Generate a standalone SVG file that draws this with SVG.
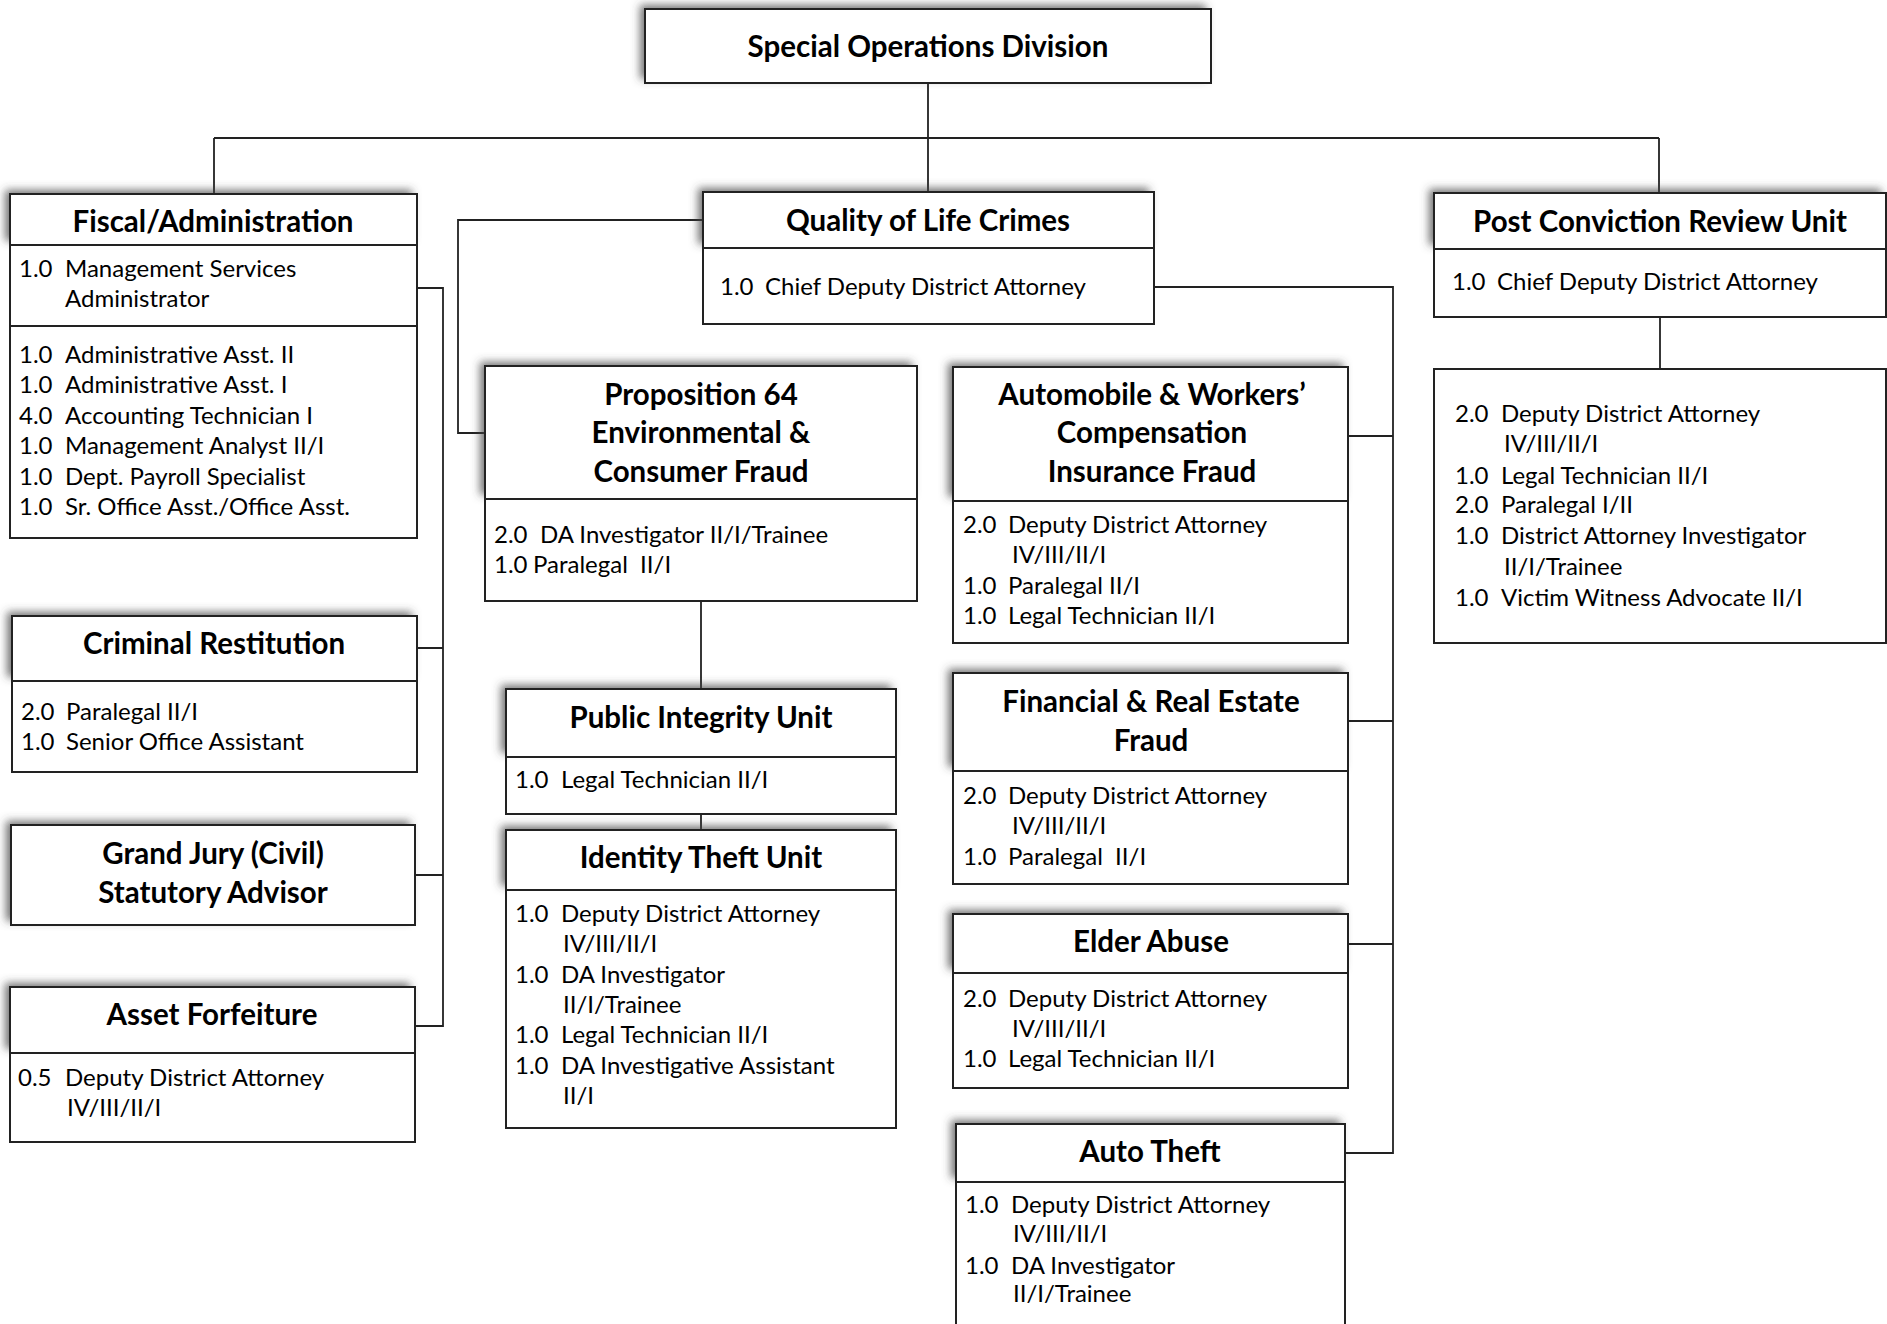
<svg xmlns="http://www.w3.org/2000/svg" width="1887" height="1324" viewBox="0 0 1887 1324">
<defs>
<filter id="sh" x="-10%" y="-30%" width="120%" height="160%">
<feGaussianBlur in="SourceAlpha" stdDeviation="4"/>
<feOffset dx="-5" dy="-4" result="b"/>
<feFlood flood-color="#444" flood-opacity="0.75"/>
<feComposite in2="b" operator="in"/>
<feMerge><feMergeNode/><feMergeNode in="SourceGraphic"/></feMerge>
</filter>
<style>
.bx{fill:#fff;stroke:#222;stroke-width:2}
.hd{fill:#fff;stroke:none;filter:url(#sh)}
.dv{stroke:#222;stroke-width:2}
.ln{fill:none;stroke:#222;stroke-width:1.8}
.t{font-family:Lato,"Liberation Sans",sans-serif;font-weight:bold;font-size:29.5px;text-anchor:middle;fill:#000}
.b{font-family:Lato,"Liberation Sans",sans-serif;font-size:24px;fill:#000}
</style>
</defs>
<rect width="1887" height="1324" fill="#fff"/>

<g id="connectors">
<path class="ln" d="M928 83V138M214 138H1659M214 138V194M928 138V192M1659 138V194"/>
<path class="ln" d="M417 288H443V1026H415M417 648H443M415 875H443"/>
<path class="ln" d="M703 220H458V433H485"/>
<path class="ln" d="M1154 287H1393V1153H1345M1348 436H1393M1348 721H1393M1348 944H1393"/>
<path class="ln" d="M701 601V689M701 814V830"/>
<path class="ln" d="M1660 317V369"/>
</g>

<g id="n-top">
<rect class="hd" x="645" y="9" width="566" height="74"/>
<rect class="bx" x="645" y="9" width="566" height="74"/>
<text class="t" x="928" y="57">Special Operations Division</text>
</g>

<g id="n-fiscal">
<rect class="hd" x="10" y="194" width="407" height="51"/>
<rect class="bx" x="10" y="194" width="407" height="344"/>
<line class="dv" x1="10" y1="245" x2="417" y2="245"/>
<line class="dv" x1="10" y1="326" x2="417" y2="326"/>
<text class="t" x="213" y="232">Fiscal/Administration</text>
<text class="b" x="19" y="277">1.0</text><text class="b" x="65" y="277">Management Services</text>
<text class="b" x="65" y="307">Administrator</text>
<text class="b" x="19" y="363">1.0</text><text class="b" x="65" y="363">Administrative Asst. II</text>
<text class="b" x="19" y="393">1.0</text><text class="b" x="65" y="393">Administrative Asst. I</text>
<text class="b" x="19" y="424">4.0</text><text class="b" x="65" y="424">Accounting Technician I</text>
<text class="b" x="19" y="454">1.0</text><text class="b" x="65" y="454">Management Analyst II/I</text>
<text class="b" x="19" y="485">1.0</text><text class="b" x="65" y="485">Dept. Payroll Specialist</text>
<text class="b" x="19" y="515">1.0</text><text class="b" x="65" y="515">Sr. Office Asst./Office Asst.</text>
</g>

<g id="n-restitution">
<rect class="hd" x="12" y="616" width="405" height="65"/>
<rect class="bx" x="12" y="616" width="405" height="156"/>
<line class="dv" x1="12" y1="681" x2="417" y2="681"/>
<text class="t" x="214" y="654">Criminal Restitution</text>
<text class="b" x="21" y="720">2.0</text><text class="b" x="66" y="720">Paralegal II/I</text>
<text class="b" x="21" y="750">1.0</text><text class="b" x="66" y="750">Senior Office Assistant</text>
</g>

<g id="n-grandjury">
<rect class="hd" x="11" y="825" width="404" height="100"/>
<rect class="bx" x="11" y="825" width="404" height="100"/>
<text class="t" x="213" y="864">Grand Jury (Civil)</text>
<text class="t" x="213" y="903">Statutory Advisor</text>
</g>

<g id="n-asset">
<rect class="hd" x="10" y="987" width="405" height="66"/>
<rect class="bx" x="10" y="987" width="405" height="155"/>
<line class="dv" x1="10" y1="1053" x2="415" y2="1053"/>
<text class="t" x="212" y="1025">Asset Forfeiture</text>
<text class="b" x="18" y="1086">0.5</text><text class="b" x="65" y="1086">Deputy District Attorney</text>
<text class="b" x="67" y="1116">IV/III/II/I</text>
</g>

<g id="n-qol">
<rect class="hd" x="703" y="192" width="451" height="56"/>
<rect class="bx" x="703" y="192" width="451" height="132"/>
<line class="dv" x1="703" y1="248" x2="1154" y2="248"/>
<text class="t" x="928" y="231">Quality of Life Crimes</text>
<text class="b" x="720" y="295">1.0</text><text class="b" x="765" y="295">Chief Deputy District Attorney</text>
</g>

<g id="n-prop64">
<rect class="hd" x="485" y="366" width="432" height="133"/>
<rect class="bx" x="485" y="366" width="432" height="235"/>
<line class="dv" x1="485" y1="499" x2="917" y2="499"/>
<text class="t" x="701" y="405">Proposition 64</text>
<text class="t" x="701" y="443">Environmental &amp;</text>
<text class="t" x="701" y="482">Consumer Fraud</text>
<text class="b" x="494" y="543">2.0</text><text class="b" x="540" y="543">DA Investigator II/I/Trainee</text>
<text class="b" x="494" y="573">1.0</text><text class="b" x="533" y="573" xml:space="preserve">Paralegal  II/I</text>
</g>

<g id="n-piu">
<rect class="hd" x="506" y="689" width="390" height="68"/>
<rect class="bx" x="506" y="689" width="390" height="125"/>
<line class="dv" x1="506" y1="757" x2="896" y2="757"/>
<text class="t" x="701" y="728">Public Integrity Unit</text>
<text class="b" x="515" y="788">1.0</text><text class="b" x="561" y="788">Legal Technician II/I</text>
</g>

<g id="n-itu">
<rect class="hd" x="506" y="830" width="390" height="60"/>
<rect class="bx" x="506" y="830" width="390" height="298"/>
<line class="dv" x1="506" y1="890" x2="896" y2="890"/>
<text class="t" x="701" y="868">Identity Theft Unit</text>
<text class="b" x="515" y="922">1.0</text><text class="b" x="561" y="922">Deputy District Attorney</text>
<text class="b" x="563" y="952">IV/III/II/I</text>
<text class="b" x="515" y="983">1.0</text><text class="b" x="561" y="983">DA Investigator</text>
<text class="b" x="563" y="1013">II/I/Trainee</text>
<text class="b" x="515" y="1043">1.0</text><text class="b" x="561" y="1043">Legal Technician II/I</text>
<text class="b" x="515" y="1074">1.0</text><text class="b" x="561" y="1074">DA Investigative Assistant</text>
<text class="b" x="563" y="1104">II/I</text>
</g>

<g id="n-autoworkers">
<rect class="hd" x="953" y="367" width="395" height="134"/>
<rect class="bx" x="953" y="367" width="395" height="276"/>
<line class="dv" x1="953" y1="501" x2="1348" y2="501"/>
<text class="t" x="1152" y="405">Automobile &amp; Workers’</text>
<text class="t" x="1152" y="443">Compensation</text>
<text class="t" x="1152" y="482">Insurance Fraud</text>
<text class="b" x="963" y="533">2.0</text><text class="b" x="1008" y="533">Deputy District Attorney</text>
<text class="b" x="1012" y="563">IV/III/II/I</text>
<text class="b" x="963" y="594">1.0</text><text class="b" x="1008" y="594">Paralegal II/I</text>
<text class="b" x="963" y="624">1.0</text><text class="b" x="1008" y="624">Legal Technician II/I</text>
</g>

<g id="n-financial">
<rect class="hd" x="953" y="673" width="395" height="98"/>
<rect class="bx" x="953" y="673" width="395" height="211"/>
<line class="dv" x1="953" y1="771" x2="1348" y2="771"/>
<text class="t" x="1151" y="712">Financial &amp; Real Estate</text>
<text class="t" x="1151" y="751">Fraud</text>
<text class="b" x="963" y="804">2.0</text><text class="b" x="1008" y="804">Deputy District Attorney</text>
<text class="b" x="1012" y="834">IV/III/II/I</text>
<text class="b" x="963" y="865">1.0</text><text class="b" x="1008" y="865" xml:space="preserve">Paralegal  II/I</text>
</g>

<g id="n-elder">
<rect class="hd" x="953" y="914" width="395" height="59"/>
<rect class="bx" x="953" y="914" width="395" height="174"/>
<line class="dv" x1="953" y1="973" x2="1348" y2="973"/>
<text class="t" x="1151" y="952">Elder Abuse</text>
<text class="b" x="963" y="1007">2.0</text><text class="b" x="1008" y="1007">Deputy District Attorney</text>
<text class="b" x="1012" y="1037">IV/III/II/I</text>
<text class="b" x="963" y="1067">1.0</text><text class="b" x="1008" y="1067">Legal Technician II/I</text>
</g>

<g id="n-autotheft">
<rect class="hd" x="956" y="1124" width="389" height="58"/>
<rect class="bx" x="956" y="1124" width="389" height="210"/>
<line class="dv" x1="956" y1="1182" x2="1345" y2="1182"/>
<text class="t" x="1150" y="1162">Auto Theft</text>
<text class="b" x="965" y="1213">1.0</text><text class="b" x="1011" y="1213">Deputy District Attorney</text>
<text class="b" x="1013" y="1242">IV/III/II/I</text>
<text class="b" x="965" y="1274">1.0</text><text class="b" x="1011" y="1274">DA Investigator</text>
<text class="b" x="1013" y="1302">II/I/Trainee</text>
</g>

<g id="n-pcr">
<rect class="hd" x="1434" y="193" width="452" height="56"/>
<rect class="bx" x="1434" y="193" width="452" height="124"/>
<line class="dv" x1="1434" y1="249" x2="1886" y2="249"/>
<text class="t" x="1660" y="232">Post Conviction Review Unit</text>
<text class="b" x="1452" y="290">1.0</text><text class="b" x="1497" y="290">Chief Deputy District Attorney</text>
</g>

<g id="n-pcr-staff">
<rect class="bx" x="1434" y="369" width="452" height="274"/>
<text class="b" x="1455" y="422">2.0</text><text class="b" x="1501" y="422">Deputy District Attorney</text>
<text class="b" x="1504" y="452">IV/III/II/I</text>
<text class="b" x="1455" y="484">1.0</text><text class="b" x="1501" y="484">Legal Technician II/I</text>
<text class="b" x="1455" y="513">2.0</text><text class="b" x="1501" y="513">Paralegal I/II</text>
<text class="b" x="1455" y="544">1.0</text><text class="b" x="1501" y="544">District Attorney Investigator</text>
<text class="b" x="1504" y="575">II/I/Trainee</text>
<text class="b" x="1455" y="606">1.0</text><text class="b" x="1501" y="606">Victim Witness Advocate II/I</text>
</g>
</svg>
